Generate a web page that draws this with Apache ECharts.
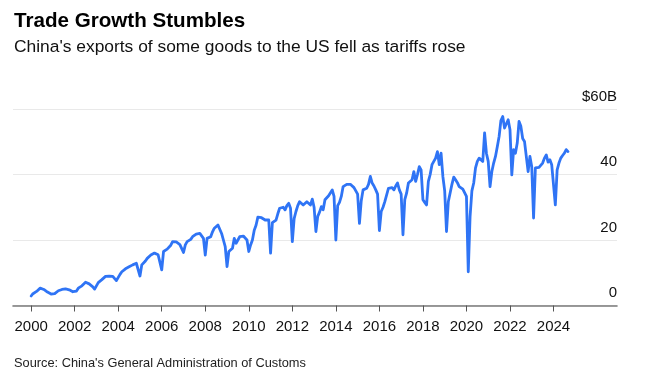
<!DOCTYPE html>
<html>
<head>
<meta charset="utf-8">
<script src="https://cdn.jsdelivr.net/npm/echarts@6/dist/echarts.min.js"></script>
<style>
html,body{margin:0;padding:0;background:#fff;}
#chart{width:648px;height:388px;}
</style>
</head>
<body>
<div id="chart"></div>
<script>
// ---- Data (monthly, $B) ----
const titleText = 'Trade Growth Stumbles';
const subtitleText = "China's exports of some goods to the US fell as tariffs rose";
const sourceText = "Source: China's General Administration of Customs";

const firstDataYear = 2000;           // data starts Jan 2000
const axisStart = [1999, 3];          // axis range (year, month)
const axisEnd = [2026, 12];
const tickYears = ['2000','2002','2004','2006','2008','2010','2012','2014','2016','2018','2020','2022','2024'];
const yTicks = [0, 20, 40, 60];
const yTopLabel = '$60B';

const exportValues = [
// 2000
2.9, 3.6, 3.9, 4.3, 4.8, 5.3, 5.2, 4.9, 4.5, 4.1, 3.7, 3.5,
// 2001
3.2, 3.6, 4.0, 4.5, 4.6, 4.9, 5.3, 5.1, 5.0, 4.8, 4.5, 4.2,
// 2002
4.0, 4.4, 5.3, 5.6, 6.0, 6.4, 7.1, 6.8, 6.6, 6.3, 5.7, 5.0,
// 2003
5.0, 7.0, 7.4, 7.9, 8.4, 8.9, 9.3, 9.0, 8.5, 8.9, 8.6, 7.6,
// 2004
7.0, 9.5, 10.3, 10.9, 11.2, 11.4, 11.8, 12.2, 12.4, 12.7, 12.9, 12.5,
// 2005
9.0, 12.4, 13.0, 13.6, 14.4, 14.8, 15.4, 15.6, 16.0, 15.8, 15.5, 15.4,
// 2006
10.9, 16.5, 16.8, 17.2, 17.5, 18.4, 19.5, 19.7, 19.4, 19.0, 18.6, 18.0,
// 2007
16.2, 18.5, 19.5, 19.8, 20.2, 21.0, 21.6, 21.8, 21.9, 22.0, 21.9, 20.5,
// 2008
15.4, 20.5, 21.0, 21.0, 22.5, 23.6, 24.1, 24.6, 24.0, 22.0, 20.0, 18.0,
// 2009
11.9, 16.5, 17.0, 17.5, 20.5, 19.0, 20.0, 21.0, 20.8, 21.2, 21.0, 20.0,
// 2010
16.5, 18.5, 20.0, 23.0, 24.5, 27.0, 27.4, 26.8, 26.3, 26.1, 26.6, 26.1,
// 2011
16.0, 25.3, 25.5, 26.1, 28.0, 29.7, 30.2, 30.0, 29.2, 30.5, 31.2, 29.7,
// 2012
19.5, 26.5, 28.7, 30.5, 31.7, 31.4, 30.7, 31.2, 31.7, 31.2, 30.7, 32.5,
// 2013
30.0, 22.6, 27.2, 28.5, 30.2, 29.2, 32.3, 32.8, 33.5, 34.0, 35.3, 33.3,
// 2014
20.0, 30.5, 31.5, 33.3, 36.3, 36.8, 37.0, 37.4, 37.0, 36.8, 36.0, 35.8,
// 2015
34.0, 25.1, 32.0, 35.3, 35.5, 35.8, 37.0, 39.4, 37.4, 36.5, 35.3, 34.0,
// 2016
22.9, 28.7, 30.0, 31.7, 32.3, 35.8, 36.1, 36.0, 35.3, 36.5, 37.4, 35.3,
// 2017
34.0, 21.6, 32.3, 34.3, 37.4, 38.0, 38.4, 40.9, 37.9, 40.0, 42.4, 41.4,
// 2018
32.3, 31.5, 30.7, 37.9, 40.0, 43.0, 42.4, 45.0, 47.0, 43.0, 46.5, 39.4,
// 2019
35.0, 22.6, 31.7, 31.7, 37.0, 39.2, 38.4, 37.5, 36.3, 36.0, 35.5, 35.3,
// 2020
33.3, 10.3, 27.2, 35.0, 37.4, 42.0, 44.0, 45.0, 45.5, 44.0, 52.7, 46.5,
// 2021
44.0, 36.3, 40.9, 43.5, 45.5, 48.5, 51.6, 56.5, 57.7, 54.2, 55.5, 56.7,
// 2022
53.7, 39.9, 47.6, 46.5, 49.6, 56.2, 54.7, 51.0, 50.1, 50.6, 40.9, 45.5,
// 2023
42.4, 26.7, 42.0, 42.2, 42.2, 42.4, 43.5, 45.0, 46.0, 43.8, 44.5, 43.0,
// 2024
43.0, 30.7, 41.4, 43.5, 45.0, 45.8, 46.5, 47.6, 47.0
];

// ---- Build category axis & aligned series ----
const pad = n => (n < 10 ? '0' + n : '' + n);
const months = [];
const seriesData = [];
for (let y = axisStart[0], m = axisStart[1]; y < axisEnd[0] || (y === axisEnd[0] && m <= axisEnd[1]); ) {
  months.push(y + '-' + pad(m));
  const idx = (y - firstDataYear) * 12 + (m - 1);
  seriesData.push(idx >= 0 && idx < exportValues.length ? exportValues[idx] : null);
  m++; if (m > 12) { m = 1; y++; }
}
const isTick = (i, v) => v.slice(5) === '01' && tickYears.indexOf(v.slice(0, 4)) >= 0;

const FONT = "'Liberation Sans', Arial, Helvetica, sans-serif";
const chart = echarts.init(document.getElementById('chart'), null, {renderer: 'canvas'});
chart.setOption({
  animation: false,
  backgroundColor: '#fff',
  title: [
    {text: titleText, left: 14, top: 11, padding: 0, textStyle: {fontFamily: FONT, fontSize: 20.6, fontWeight: 'bold', color: '#000'}},
    {text: subtitleText, left: 14, top: 39, padding: 0, textStyle: {fontFamily: FONT, fontSize: 17.4, fontWeight: 'normal', color: '#111'}},
    {text: sourceText, left: 14, top: 357, padding: 0, textStyle: {fontFamily: FONT, fontSize: 12.8, fontWeight: 'normal', color: '#222'}}
  ],
  grid: {left: 13, right: 31, top: 109, bottom: 82.5, containLabel: false},
  xAxis: {
    type: 'category',
    data: months,
    boundaryGap: false,
    axisLine: {show: true, lineStyle: {color: '#7a7a7a', width: 1.6}},
    axisTick: {show: true, interval: isTick, length: 6, lineStyle: {color: '#555', width: 1}},
    axisLabel: {interval: isTick, formatter: v => v.slice(0, 4), fontFamily: FONT, fontSize: 15, color: '#111', margin: 14},
    splitLine: {show: false}
  },
  yAxis: {
    type: 'value',
    position: 'right',
    min: yTicks[0],
    max: yTicks[yTicks.length - 1],
    interval: 20,
    axisLine: {show: false},
    axisTick: {show: false},
    axisLabel: {
      inside: true, margin: 0, verticalAlign: 'bottom', padding: [0, 0, 5, 0],
      fontFamily: FONT, fontSize: 15, color: '#111',
      formatter: v => (v === yTicks[yTicks.length - 1] ? yTopLabel : String(v))
    },
    splitLine: {show: true, lineStyle: {color: '#e9e9e9', width: 1}}
  },
  series: [{
    type: 'line',
    data: seriesData,
    showSymbol: false,
    connectNulls: false,
    lineStyle: {color: '#2f74f5', width: 2.8, join: 'round', cap: 'round'},
    z: 3
  }]
});
</script>
</body>
</html>
